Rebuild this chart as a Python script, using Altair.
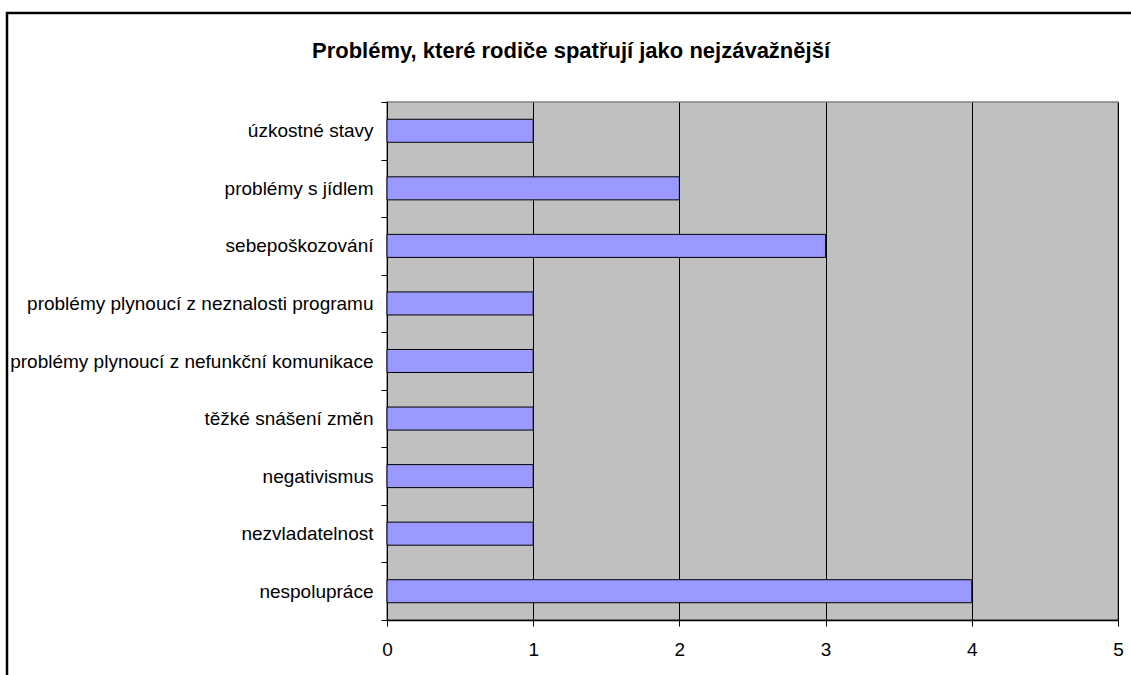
import altair as alt
import pandas as pd

# Problems named by parents, listed top to bottom, with how many times each was named
categories = [
    "úzkostné stavy",
    "problémy s jídlem",
    "sebepoškozování",
    "problémy plynoucí z neznalosti programu",
    "problémy plynoucí z nefunkční komunikace",
    "těžké snášení změn",
    "negativismus",
    "nezvladatelnost",
    "nespolupráce",
]
counts = [1, 2, 3, 1, 1, 1, 1, 1, 4]
x_ticks = [0, 1, 2, 3, 4, 5]
title_text = "Problémy, které rodiče spatřují jako nejzávažnější"

FONT = "Liberation Sans"
W, H = 731, 518

df = pd.DataFrame({"problem": categories, "count": counts})

# bands fill the whole height so the category ticks sit between rows;
# each bar takes 40 % of its band, centred
bars = alt.Chart(df).mark_bar(
    fill="#9999FF", stroke="#000000", strokeWidth=1,
    height=alt.RelativeBandSize(0.4),
).encode(
    x=alt.X(
        "count:Q",
        scale=alt.Scale(domain=[0, 5], nice=False),
        axis=alt.Axis(
            values=x_ticks, title=None, grid=True, gridColor="#000000",
            gridOpacity=1, gridWidth=1, domainColor="#000000", domainWidth=1.5,
            tickColor="#000000", tickSize=6, labelFont=FONT, labelFontSize=19,
            labelColor="#000000", labelPadding=14, labelFlush=False,
        ),
    ),
    y=alt.Y(
        "problem:N",
        sort=categories,
        scale=alt.Scale(paddingInner=0, paddingOuter=0),
        axis=alt.Axis(
            title=None, tickBand="extent", domainColor="#000000", domainWidth=1,
            tickColor="#000000", tickSize=6, labelFont=FONT, labelFontSize=19,
            labelColor="#000000", labelPadding=8, labelLimit=500,
        ),
    ),
)

title = alt.Chart(pd.DataFrame({"t": [title_text]})).mark_text(
    font=FONT, fontSize=22, fontWeight="bold", color="#000000",
    align="center", baseline="alphabetic",
).encode(text="t:N", x=alt.value(184), y=alt.value(-44))

# outer frame around the whole chart
frame = alt.Chart(pd.DataFrame({"f": [0]})).mark_rect(
    fill=None, stroke="#000000", strokeWidth=2.5, clip=False
).encode(
    x=alt.value(-380), x2=alt.value(760), y=alt.value(-89), y2=alt.value(600)
)

chart = alt.layer(bars, title, frame).properties(
    width=W, height=H,
    autosize=alt.AutoSizeParams(type="none"),
    padding={"left": 387, "top": 102, "right": 13, "bottom": 55},
    background="#FFFFFF",
).configure_view(
    fill="#C0C0C0", stroke="#808080", strokeWidth=1.5
)

chart.save("out.html", embed_options={"renderer": "svg", "actions": False})
